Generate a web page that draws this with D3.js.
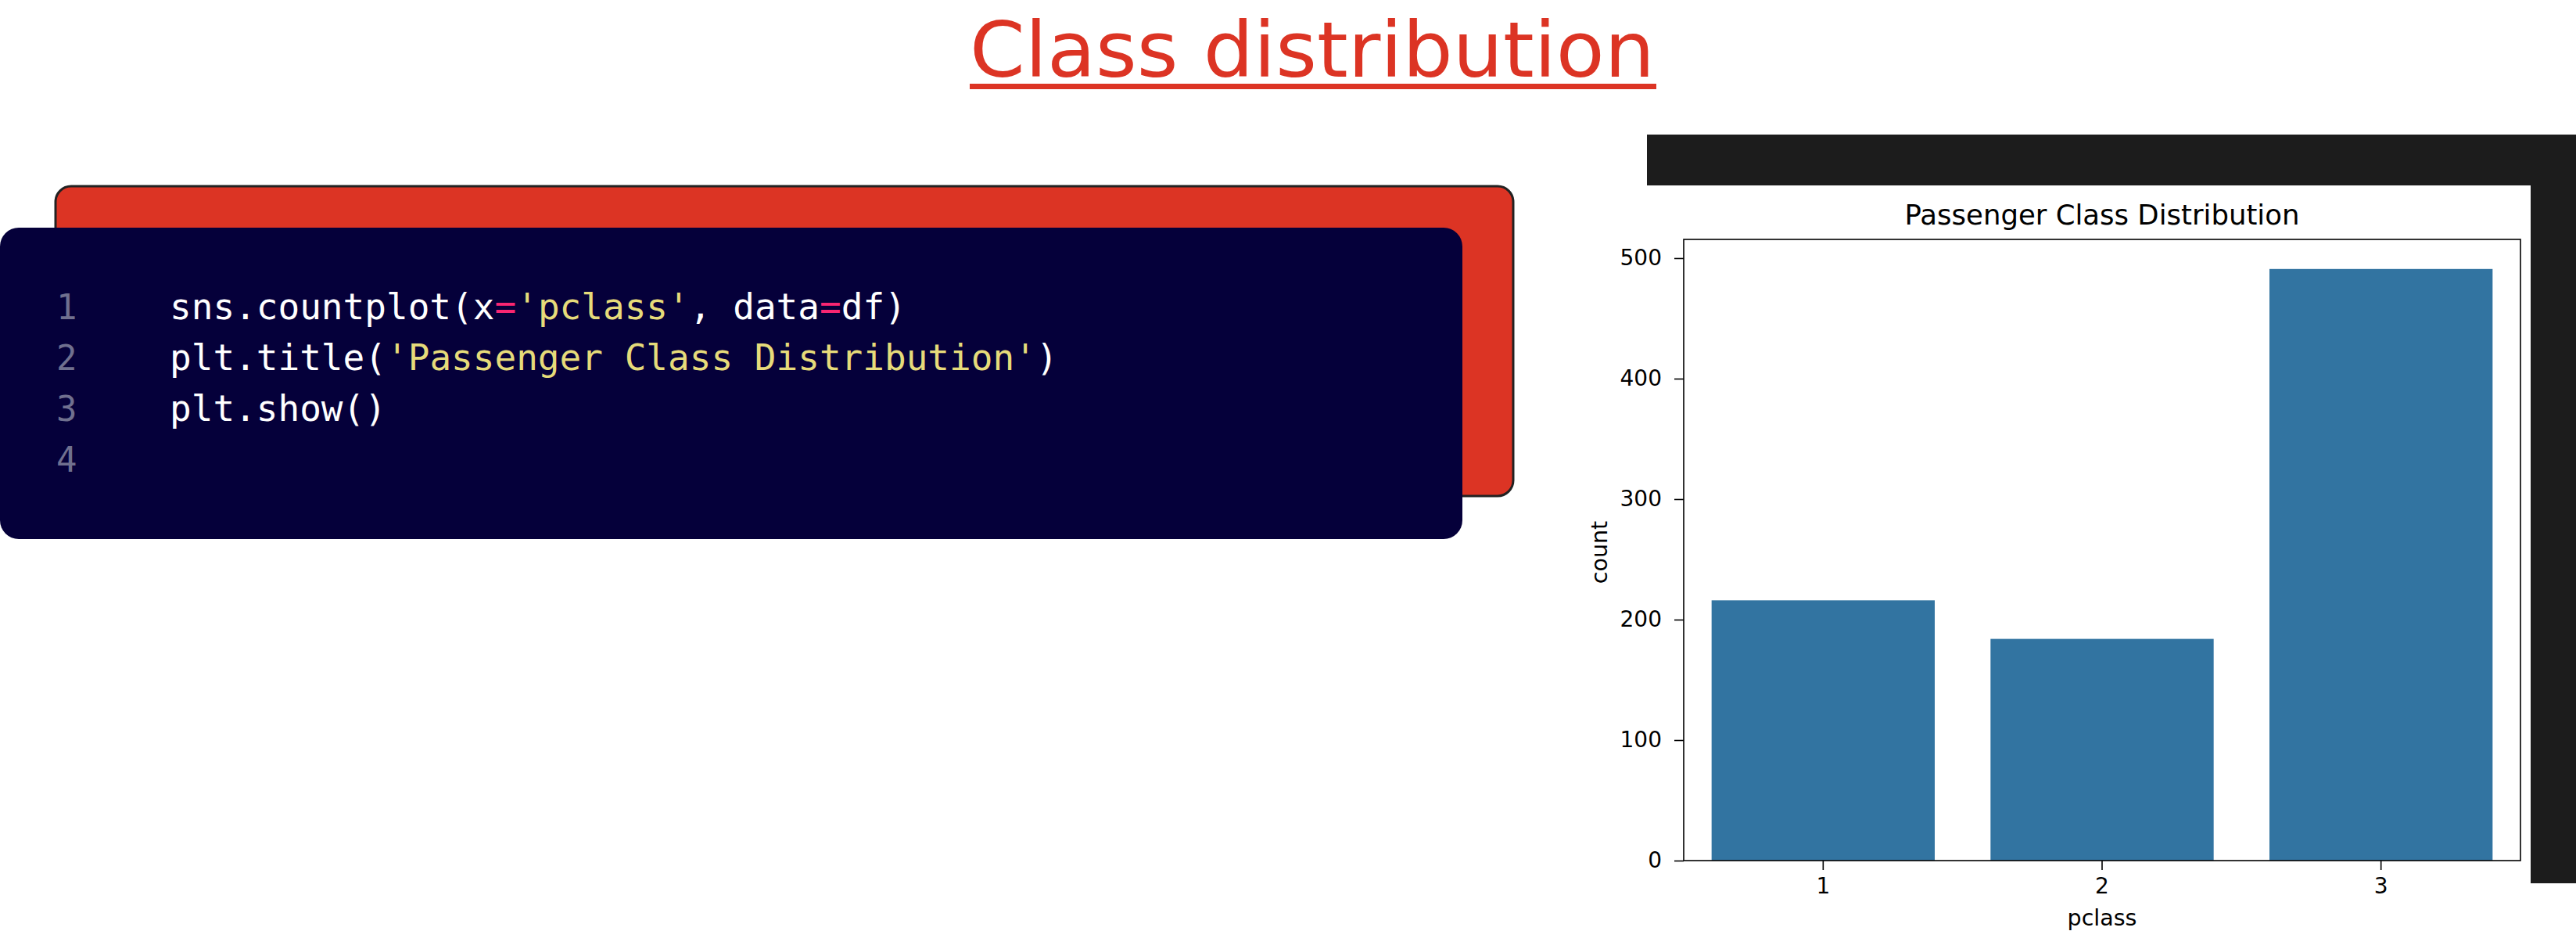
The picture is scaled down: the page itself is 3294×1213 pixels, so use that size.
<!DOCTYPE html>
<html>
<head>
<meta charset="utf-8">
<script src="https://cdn.jsdelivr.net/npm/d3@7"></script>
<style>
  html, body { margin: 0; padding: 0; background: #ffffff; }
  svg { display: block; }
</style>
</head>
<body>
<svg id="root" width="3294" height="1213"></svg>
<script>
// ---- data ----
const categories = ["1", "2", "3"];
const counts = [216, 184, 491];
const yTicks = [0, 100, 200, 300, 400, 500];
const chartTitle = "Passenger Class Distribution";
const xLabel = "pclass";
const yLabel = "count";
const pageTitle = "Class distribution";
const lineNumbers = ["1", "2", "3", "4"];
const codeLines = [
  [["sns.countplot(x", "plain"], ["=", "op"], ["'pclass'", "str"], [", data", "plain"], ["=", "op"], ["df)", "plain"]],
  [["plt.title(", "plain"], ["'Passenger Class Distribution'", "str"], [")", "plain"]],
  [["plt.show()", "plain"]],
  []
];

const svg = d3.select("#root");

// ---- page title ----
svg.append("text")
  .attr("x", 1240).attr("y", 98)
  .attr("textLength", 876).attr("lengthAdjust", "spacingAndGlyphs")
  .attr("font-family", "DejaVu Sans").attr("font-size", 98)
  .attr("fill", "#dc3424")
  .text(pageTitle);
svg.append("rect").attr("x", 1240).attr("y", 107).attr("width", 878).attr("height", 7).attr("fill", "#dc3424");

// ---- code card ----
svg.append("rect").attr("x", 71).attr("y", 238).attr("width", 1864).attr("height", 396)
  .attr("rx", 20).attr("fill", "#dc3424").attr("stroke", "#222222").attr("stroke-width", 3);
svg.append("rect").attr("x", 0).attr("y", 291).attr("width", 1870).attr("height", 398)
  .attr("rx", 24).attr("fill", "#05003a");

const tokenColor = { plain: "#ffffff", op: "#f92672", str: "#e6db7a" };
const charW = 27.7;
lineNumbers.forEach((n, i) => {
  svg.append("text").attr("x", 72).attr("y", 408 + i * 65)
    .attr("font-family", "DejaVu Sans Mono").attr("font-size", 44)
    .attr("fill", "#70708f").text(n);
});
codeLines.forEach((toks, i) => {
  const t = svg.append("text").attr("x", 217).attr("y", 408 + i * 65)
    .attr("font-family", "DejaVu Sans Mono").attr("font-size", 46)
    .attr("xml:space", "preserve");
  let col = 0;
  toks.forEach(([s, k]) => {
    t.append("tspan").attr("x", 217 + col * charW).attr("fill", tokenColor[k]).text(s);
    col += s.length;
  });
});

// ---- screenshot frame ----
svg.append("rect").attr("x", 2106).attr("y", 172).attr("width", 1188).attr("height", 65).attr("fill", "#1c1c1c");
svg.append("rect").attr("x", 3236).attr("y", 172).attr("width", 58).attr("height", 957).attr("fill", "#1c1c1c");

// ---- chart ----
const L = 2153, R = 3223, T = 306, B = 1100;
const x = d3.scaleBand().domain(categories).range([L, R]).paddingInner(0.2).paddingOuter(0.1);
const y = d3.scaleLinear().domain([0, d3.max(counts) * 1.05]).range([B, T]);

const g = svg.append("g");
g.selectAll("rect.bar").data(counts).join("rect")
  .attr("class", "bar")
  .attr("x", (d, i) => x(categories[i]))
  .attr("width", x.bandwidth())
  .attr("y", d => y(d))
  .attr("height", d => B - y(d))
  .attr("fill", "#3274a1");

const font = "DejaVu Sans";
const yAxis = g.append("g").attr("transform", `translate(${L},0)`)
  .call(d3.axisLeft(y).tickValues(yTicks).tickSize(12).tickPadding(16));
const xAxis = g.append("g").attr("transform", `translate(0,${B})`)
  .call(d3.axisBottom(x).tickSize(12).tickPadding(10));
[yAxis, xAxis].forEach(a => {
  a.select(".domain").remove();
  a.selectAll(".tick line").attr("stroke", "#000").attr("stroke-width", 1.6);
  a.selectAll(".tick text").attr("font-family", font).attr("font-size", 28).attr("fill", "#000");
});

g.append("rect").attr("x", L).attr("y", T).attr("width", R - L).attr("height", B - T)
  .attr("fill", "none").attr("stroke", "#000").attr("stroke-width", 1.6);

g.append("text").attr("x", (L + R) / 2).attr("y", 287).attr("text-anchor", "middle")
  .attr("font-family", font).attr("font-size", 35.5).attr("fill", "#000").text(chartTitle);
g.append("text").attr("x", (L + R) / 2).attr("y", 1183).attr("text-anchor", "middle")
  .attr("font-family", font).attr("font-size", 28.5).attr("fill", "#000").text(xLabel);
g.append("text").attr("transform", `translate(2055,706) rotate(-90)`).attr("text-anchor", "middle")
  .attr("font-family", font).attr("font-size", 28.5).attr("fill", "#000").text(yLabel);
</script>
</body>
</html>
